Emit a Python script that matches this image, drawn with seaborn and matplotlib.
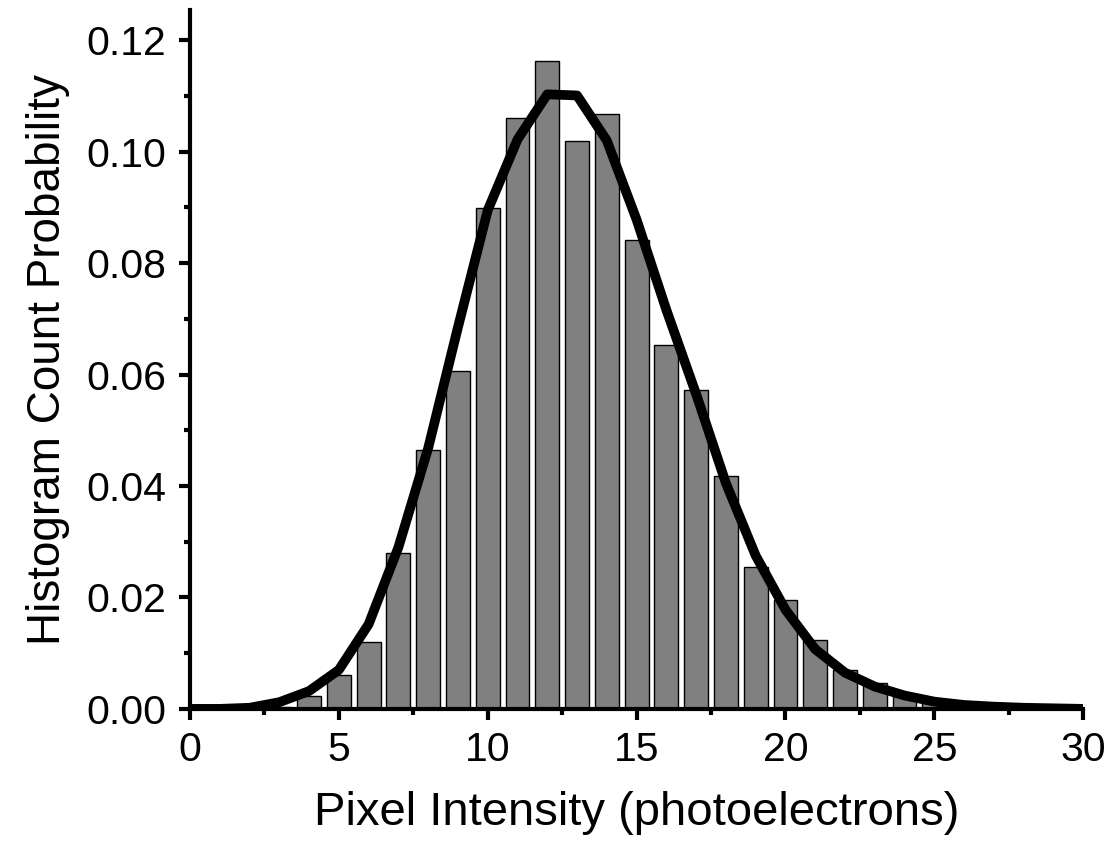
import numpy as np
import pandas as pd
import matplotlib
matplotlib.use("Agg")
import matplotlib.pyplot as plt
import seaborn as sns
from matplotlib.ticker import MultipleLocator, FormatStrFormatter

# Histogram bars (pixel intensity, probability)
bar_x = [3, 4, 5, 6, 7, 8, 9, 10, 11, 12, 13, 14, 15, 16, 17, 18, 19, 20,
         21, 22, 23, 24, 25, 26, 27]
bar_y = [0.0004, 0.0023, 0.0060, 0.0120, 0.0280, 0.0465, 0.0607, 0.0899,
         0.1060, 0.1162, 0.1020, 0.1067, 0.0842, 0.0654, 0.0573, 0.0418,
         0.0254, 0.0195, 0.0124, 0.0069, 0.0046, 0.0026, 0.0012, 0.0005,
         0.0002]

# Fitted curve (connected at integer intensities)
fit_x = list(range(0, 31))
fit_y = [0.0000, 0.0000, 0.0002, 0.0012, 0.0032, 0.0070, 0.0152, 0.0290,
         0.0468, 0.0685, 0.0895, 0.1022, 0.1103, 0.1101, 0.1020, 0.0878,
         0.0716, 0.0565, 0.0405, 0.0275, 0.0178, 0.0107, 0.0065, 0.0040,
         0.0024, 0.0013, 0.0007, 0.0004, 0.0002, 0.0001, 0.0000]

x_label = "Pixel Intensity (photoelectrons)"
y_label = "Histogram Count Probability"

sns.set_theme(style="ticks")
plt.rcParams['font.family'] = ['Liberation Sans', 'DejaVu Sans']
plt.rcParams['text.color'] = 'black'
plt.rcParams['axes.labelcolor'] = 'black'
plt.rcParams['xtick.color'] = 'black'
plt.rcParams['ytick.color'] = 'black'

bars = pd.DataFrame({"x": bar_x, "y": bar_y})
fit = pd.DataFrame({"x": fit_x, "y": fit_y})

fig = plt.figure(figsize=(11.11, 8.51), dpi=100)
ax = fig.add_axes([0.171, 0.167, 0.804, 0.821])

sns.barplot(data=bars, x="x", y="y", native_scale=True, width=0.8,
            color="#808080", saturation=1, edgecolor="black", linewidth=1.0,
            ax=ax, zorder=2)
sns.lineplot(data=fit, x="x", y="y", color="black", linewidth=7,
             ax=ax, zorder=3)

ax.set_xlim(0, 30)
ax.set_ylim(0, 0.1254)
ax.xaxis.set_major_locator(MultipleLocator(5))
ax.xaxis.set_minor_locator(MultipleLocator(2.5))
ax.yaxis.set_major_locator(MultipleLocator(0.02))
ax.yaxis.set_minor_locator(MultipleLocator(0.01))
ax.yaxis.set_major_formatter(FormatStrFormatter('%.2f'))
ax.xaxis.set_major_formatter(FormatStrFormatter('%d'))

for s in ["top", "right"]:
    ax.spines[s].set_visible(False)
for s in ["left", "bottom"]:
    ax.spines[s].set_linewidth(3)
    ax.spines[s].set_color("black")

ax.tick_params(axis="both", which="major", direction="out", length=8,
               width=3, labelsize=29.5, color="black", labelcolor="black")
ax.tick_params(axis="both", which="minor", direction="out", length=4,
               width=3, color="black")
ax.tick_params(axis="y", which="major", pad=9)
ax.tick_params(axis="x", which="major", pad=8)

ax.set_xlabel(x_label, fontsize=34, labelpad=16, color="black")
ax.set_ylabel(y_label, fontsize=33, labelpad=12, color="black")

fig.savefig("out.png", dpi=100)
